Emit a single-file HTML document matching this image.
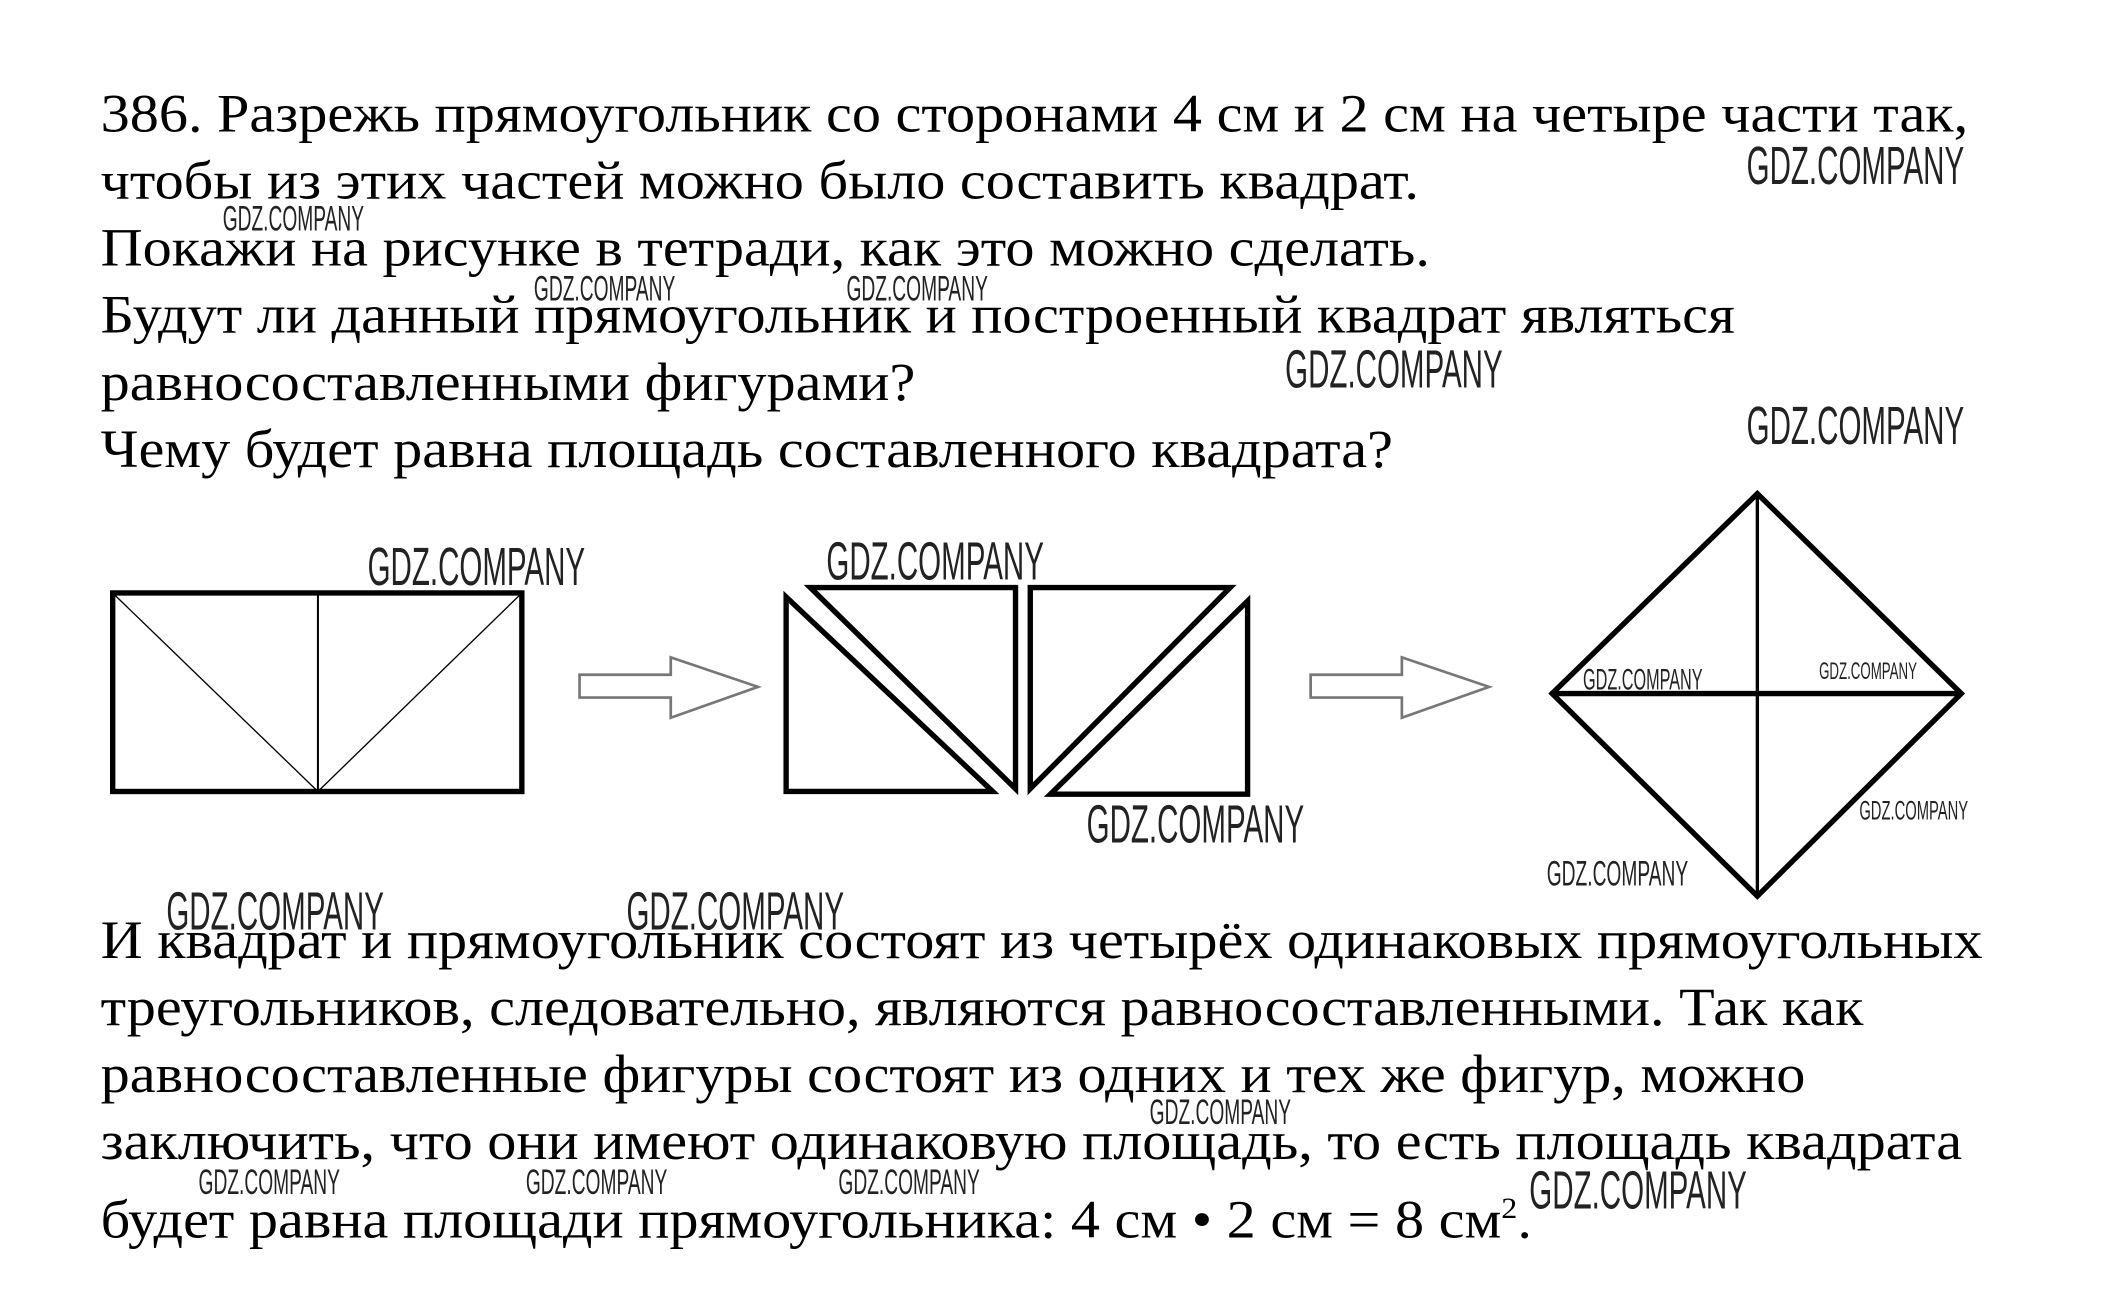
<!DOCTYPE html>
<html><head><meta charset="utf-8"><style>
html,body{margin:0;padding:0;background:#fff;}
#w{position:absolute;left:0;top:0;width:1570px;height:970px;transform:scale(1.3415,1.3415);transform-origin:0 0;overflow:hidden;}
.t{position:absolute;left:75px;font-family:"Liberation Serif",serif;font-size:40px;line-height:50px;color:#000;white-space:nowrap;transform:scaleX(1.085);transform-origin:0 0;}
.g{position:absolute;font-family:"Liberation Sans",sans-serif;color:#222;transform-origin:0 0;white-space:nowrap;}
</style></head><body><div id="w">
<div class="t" style="top:60px">386. Разрежь прямоугольник со сторонами 4 см и 2 см на четыре части так,<br>чтобы из этих частей можно было составить квадрат.<br>Покажи на рисунке в тетради, как это можно сделать.<br>Будут ли данный прямоугольник и построенный квадрат являться<br>равносоставленными фигурами?<br>Чему будет равна площадь составленного квадрата?</div>
<div class="t" style="top:676px;line-height:50px">И квадрат и прямоугольник состоят из четырёх одинаковых прямоугольных<br>треугольников, следовательно, являются равносоставленными. Так как<br>равносоставленные фигуры состоят из одних и тех же фигур, можно<br>заключить, что они имеют одинаковую площадь, то есть площадь квадрата<br>будет равна площади прямоугольника: 4 см • 2 см = 8 см<sup style="font-size:22px">2</sup>.</div>
<svg width="1570" height="970" style="position:absolute;left:0;top:0">
<g fill="none" stroke="#000">
<rect x="84" y="442" width="305" height="148" stroke-width="4"/>
<line x1="237" y1="442" x2="237" y2="590" stroke-width="1.5"/>
<line x1="86" y1="444" x2="237" y2="590" stroke-width="1"/>
<line x1="387" y1="444" x2="237" y2="590" stroke-width="1"/>
<polygon points="432,503 500,503 500,490 565,512 500,535 500,520 432,520" stroke="#777" stroke-width="2"/>
<polygon points="977,503 1045,503 1045,490 1110,512 1045,535 1045,520 977,520" stroke="#777" stroke-width="2"/>
<polygon points="586,445 586,590 740,590" stroke-width="4"/>
<polygon points="604,438 757,438 757,588" stroke-width="4"/>
<polygon points="768,438 917,438 768,588" stroke-width="4"/>
<polygon points="930,448 930,592 783,592" stroke-width="4"/>
<polygon points="1310,368 1462,517 1310,668 1157,517" stroke-width="4"/>
<line x1="1157" y1="517" x2="1462" y2="517" stroke-width="4"/>
<line x1="1310" y1="368" x2="1310" y2="668" stroke-width="2.5"/>
</g></svg>
<div class="g" style="left:1302px;top:102px;font-size:40px;transform:scaleX(.55)">GDZ.COMPANY</div>
<div class="g" style="left:1302px;top:296px;font-size:40px;transform:scaleX(.55)">GDZ.COMPANY</div>
<div class="g" style="left:958px;top:254px;font-size:40px;transform:scaleX(.55)">GDZ.COMPANY</div>
<div class="g" style="left:274px;top:401px;font-size:40px;transform:scaleX(.55)">GDZ.COMPANY</div>
<div class="g" style="left:616px;top:397px;font-size:40px;transform:scaleX(.55)">GDZ.COMPANY</div>
<div class="g" style="left:810px;top:593px;font-size:40px;transform:scaleX(.55)">GDZ.COMPANY</div>
<div class="g" style="left:124px;top:658px;font-size:40px;transform:scaleX(.55)">GDZ.COMPANY</div>
<div class="g" style="left:467px;top:658px;font-size:40px;transform:scaleX(.55)">GDZ.COMPANY</div>
<div class="g" style="left:1140px;top:866px;font-size:40px;transform:scaleX(.55)">GDZ.COMPANY</div>
<div class="g" style="left:166px;top:148px;font-size:26px;transform:scaleX(.55)">GDZ.COMPANY</div>
<div class="g" style="left:398px;top:200px;font-size:26px;transform:scaleX(.55)">GDZ.COMPANY</div>
<div class="g" style="left:631px;top:200px;font-size:26px;transform:scaleX(.55)">GDZ.COMPANY</div>
<div class="g" style="left:857px;top:814px;font-size:26px;transform:scaleX(.55)">GDZ.COMPANY</div>
<div class="g" style="left:148px;top:866px;font-size:26px;transform:scaleX(.55)">GDZ.COMPANY</div>
<div class="g" style="left:392px;top:866px;font-size:26px;transform:scaleX(.55)">GDZ.COMPANY</div>
<div class="g" style="left:625px;top:866px;font-size:26px;transform:scaleX(.55)">GDZ.COMPANY</div>
<div class="g" style="left:1180px;top:494px;font-size:22px;transform:scaleX(.55)">GDZ.COMPANY</div>
<div class="g" style="left:1356px;top:490px;font-size:18px;transform:scaleX(.55)">GDZ.COMPANY</div>
<div class="g" style="left:1386px;top:594px;font-size:20px;transform:scaleX(.55)">GDZ.COMPANY</div>
<div class="g" style="left:1153px;top:636px;font-size:26px;transform:scaleX(.55)">GDZ.COMPANY</div>
</div></body></html>
